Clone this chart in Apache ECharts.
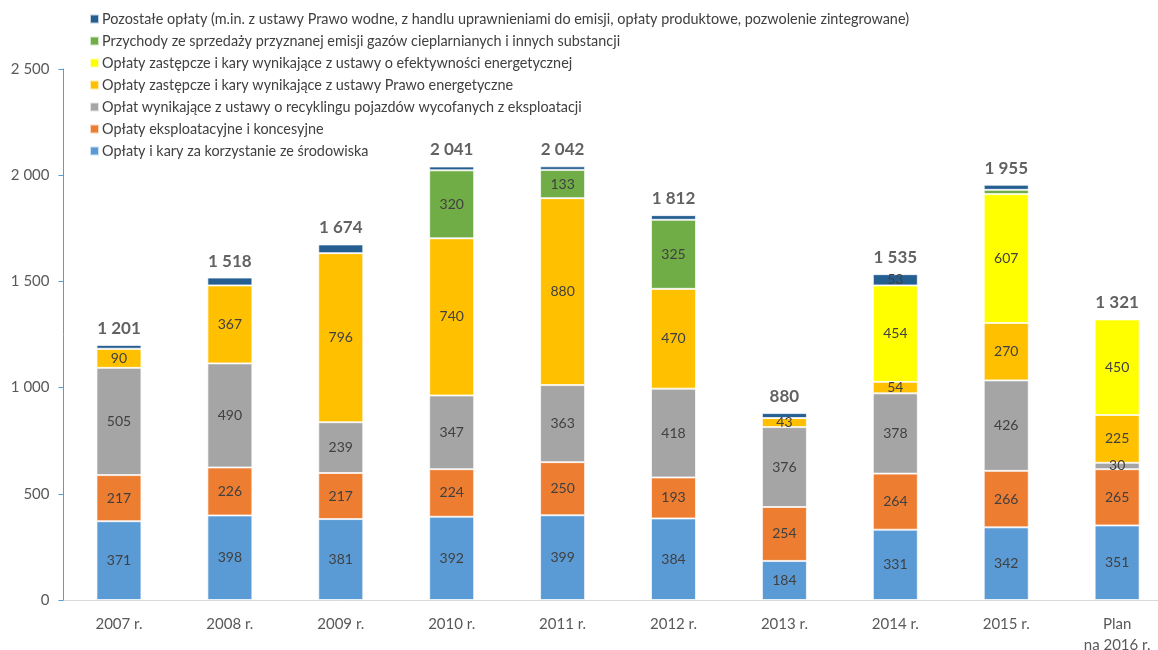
<!DOCTYPE html>
<html>
<head>
<meta charset="utf-8">
<script src="https://cdn.jsdelivr.net/npm/echarts@6/dist/echarts.min.js"></script>
<style>
  html, body { margin: 0; padding: 0; background: #fff; }
  #chart { width: 1158px; height: 650px; }
</style>
</head>
<body>
<div id="chart"></div>
<script>
  const categories = ['2007 r.', '2008 r.', '2009 r.', '2010 r.', '2011 r.', '2012 r.', '2013 r.', '2014 r.', '2015 r.', 'Plan\nna 2016 r.'];

  const srodowisko = [371, 398, 381, 392, 399, 384, 184, 331, 342, 351];
  const eksploatacyjne = [217, 226, 217, 224, 250, 193, 254, 264, 266, 265];
  const recykling = [505, 490, 239, 347, 363, 418, 376, 378, 426, 30];
  const prawoEnergetyczne = [90, 367, 796, 740, 880, 470, 43, 54, 270, 225];
  const efektywnosc = [0, 0, 0, 0, 0, 0, 0, 454, 607, 450];
  const emisja = [0, 0, 0, 320, 133, 325, 0, 0, 20, 0];
  const pozostale = [18, 37, 41, 18, 17, 22, 23, 53, 24, 0];

  const totals = [1201, 1518, 1674, 2041, 2042, 1812, 880, 1535, 1955, 1321];

  const names = [
    'Opłaty i kary za korzystanie ze środowiska',
    'Opłaty eksploatacyjne i koncesyjne',
    'Opłat wynikające z ustawy o recyklingu pojazdów wycofanych z eksploatacji',
    'Opłaty zastępcze i kary wynikające z ustawy Prawo energetyczne',
    'Opłaty zastępcze i kary wynikające z ustawy o efektywności energetycznej',
    'Przychody ze sprzedaży przyznanej emisji gazów cieplarnianych i innych substancji',
    'Pozostałe opłaty (m.in. z ustawy Prawo wodne, z handlu uprawnieniami do emisji, opłaty produktowe, pozwolenie zintegrowane)'
  ];
  const colors = ['#5B9BD5', '#ED7D31', '#A5A5A5', '#FFC000', '#FFFF00', '#70AD47', '#255E91'];
  const values = [srodowisko, eksploatacyjne, recykling, prawoEnergetyczne, efektywnosc, emisja, pozostale];

  const FONT = 'Lato, "Open Sans", sans-serif';

  // 1201 -> "1 201"
  function fmt(v) {
    return String(v).replace(/\B(?=(\d{3})+(?!\d))/g, ' ');
  }

  const chart = echarts.init(document.getElementById('chart'));

  const barSeries = values.map((data, i) => ({
    name: names[i],
    type: 'bar',
    stack: 'total',
    barWidth: 45,
    data: data,
    itemStyle: { color: colors[i], borderColor: 'rgba(255,255,255,0.7)', borderWidth: 1 },
    label: {
      show: true,
      position: 'inside',
      color: '#404040',
      fontSize: 14,
      fontFamily: FONT,
      formatter: p => {
        const limit = i === 6 ? 50 : 25;
        return p.value >= limit ? fmt(p.value) : '';
      }
    }
  }));

  const option = {
    animation: false,
    textStyle: { fontFamily: FONT },
    legend: {
      orient: 'vertical',
      left: 84,
      top: 7,
      itemWidth: 9,
      itemHeight: 9,
      itemGap: 8,
      icon: 'rect',
      data: names.slice().reverse(),
      textStyle: { color: '#404040', fontSize: 14.4, fontFamily: FONT, padding: [0, 0, 0, -2] }
    },
    grid: { left: 63.5, right: -14.6, top: 69, bottom: 50, outerBoundsMode: 'none' },
    xAxis: {
      type: 'category',
      data: categories,
      axisLine: { lineStyle: { color: '#D9D9D9' } },
      axisTick: { show: false },
      axisLabel: { color: '#595959', fontSize: 15, fontFamily: FONT, margin: 14, lineHeight: 21 }
    },
    yAxis: {
      type: 'value',
      min: 0,
      max: 2500,
      interval: 500,
      axisLine: { show: true, lineStyle: { color: '#5B9BD5' } },
      axisTick: { show: true, inside: false, length: 5, lineStyle: { color: '#5B9BD5' } },
      splitLine: { show: false },
      axisLabel: { color: '#595959', fontSize: 15, fontFamily: FONT, margin: 14, formatter: v => fmt(v) }
    },
    series: barSeries.concat([{
      name: 'Razem',
      type: 'scatter',
      data: totals,
      symbolSize: 2,
      itemStyle: { color: 'rgba(0,0,0,0)' },
      silent: true,
      z: 10,
      label: {
        show: true,
        position: 'top',
        distance: 7,
        color: '#3a3a3a',
        fontSize: 17,
        fontWeight: 'bold',
        fontFamily: FONT,
        formatter: p => fmt(p.value)
      }
    }])
  };

  chart.setOption(option);
</script>
</body>
</html>
